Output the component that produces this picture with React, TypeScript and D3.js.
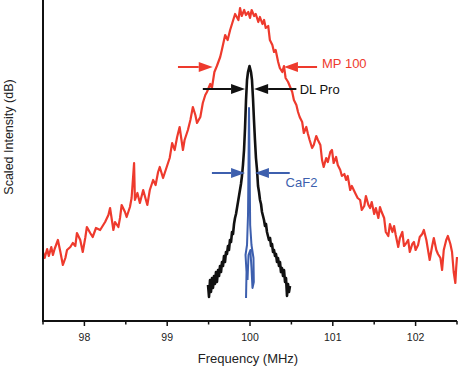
import React, { useEffect, useRef } from "react";
import * as d3 from "d3";

// MP 100 (red) — frequency in MHz, scaled intensity in dB
const mpFreq = [
  97.5, 97.52, 97.55, 97.57, 97.6, 97.62, 97.64, 97.68, 97.71, 97.74, 97.77, 97.79, 97.83, 97.86, 97.89, 97.91,
  97.95, 97.98, 98.01, 98.03, 98.07, 98.1, 98.14, 98.19, 98.22, 98.25, 98.29, 98.31, 98.35, 98.37, 98.41, 98.43,
  98.45, 98.49, 98.51, 98.55, 98.57, 98.6, 98.61, 98.64, 98.67, 98.71, 98.73, 98.76, 98.79, 98.83, 98.86, 98.89,
  98.91, 98.95, 98.97, 99.01, 99.03, 99.06, 99.09, 99.12, 99.15, 99.19, 99.21, 99.25, 99.28, 99.31, 99.34, 99.36,
  99.4, 99.43, 99.46, 99.48, 99.52, 99.54, 99.57, 99.6, 99.64, 99.66, 99.7, 99.73, 99.76, 99.79, 99.82, 99.86,
  99.88, 99.9, 99.93, 99.95, 99.98, 100.0, 100.02, 100.05, 100.07, 100.1, 100.12, 100.15, 100.17, 100.19, 100.22,
  100.24, 100.27, 100.29, 100.31, 100.34, 100.36, 100.39, 100.41, 100.43, 100.46, 100.48, 100.51, 100.53, 100.56,
  100.58, 100.6, 100.63, 100.65, 100.68, 100.7, 100.72, 100.75, 100.77, 100.8, 100.82, 100.85, 100.87, 100.89,
  100.92, 100.94, 100.97, 100.99, 101.01, 101.04, 101.06, 101.09, 101.11, 101.14, 101.16, 101.18, 101.21, 101.23,
  101.27, 101.3, 101.33, 101.35, 101.38, 101.4, 101.43, 101.45, 101.47, 101.5, 101.52, 101.55, 101.57, 101.59,
  101.62, 101.64, 101.67, 101.69, 101.72, 101.74, 101.76, 101.79, 101.81, 101.84, 101.86, 101.88, 101.91, 101.93,
  101.96, 101.98, 102.0, 102.03, 102.05, 102.08, 102.1, 102.13, 102.15, 102.17, 102.2, 102.22, 102.25, 102.27,
  102.3, 102.32, 102.34, 102.37, 102.39, 102.42, 102.44, 102.46, 102.48, 102.49, 102.5,
];
const mpLevel = [
  -25.1, -25.7, -24.8, -25.5, -24.6, -25.4, -24.8, -23.9, -25.1, -26.4, -25.7, -24.9, -24.6, -24.2, -24.5, -23.2,
  -23.9, -25.1, -23.7, -22.6, -23.2, -23.6, -22.7, -22.9, -22.5, -22.1, -21.4, -20.7, -22.9, -22.1, -22.6, -21.7,
  -20.4, -21.1, -21.6, -20.6, -19.7, -16.2, -19.9, -19.2, -20.2, -18.9, -19.5, -20.4, -18.9, -17.9, -18.4, -17.1,
  -16.6, -17.7, -17.2, -16.2, -15.7, -14.2, -14.9, -13.6, -12.6, -14.9, -13.9, -12.9, -11.9, -10.6, -11.4, -12.2,
  -11.6, -10.2, -9.4, -9.1, -8.3, -8.7, -7.1, -6.5, -5.6, -4.9, -3.4, -3.9, -2.9, -2.1, -1.3, -1.9,
  -0.7, -1.5, -0.9, -1.4, -1.1, -1.7, -0.9, -1.5, -1.3, -2.1, -1.6, -2.3, -1.9, -2.7, -2.5,
  -3.9, -4.4, -5.1, -4.9, -6.1, -6.7, -7.1, -6.5, -7.7, -8.1, -8.5, -9.1, -9.9, -10.4,
  -11.1, -11.6, -12.1, -13.2, -12.6, -13.3, -13.9, -14.7, -14.4, -13.5, -13.9, -14.4, -15.9, -16.6,
  -15.7, -16.1, -15.1, -14.9, -16.2, -15.6, -16.4, -16.9, -17.5, -17.3, -17.9, -17.5, -18.9, -18.5,
  -19.2, -19.7, -19.9, -20.9, -20.5, -19.5, -20.4, -20.7, -20.1, -21.3, -20.7, -21.7, -20.6, -21.1,
  -21.7, -23.1, -23.5, -22.3, -23.1, -22.5, -23.4, -24.6, -23.7, -23.1, -24.5, -24.3, -23.9, -25.1,
  -24.3, -24.1, -24.9, -24.4, -23.6, -23.3, -22.9, -23.9, -24.9, -25.9, -24.5, -23.7, -24.9, -25.3,
  -25.7, -26.9, -24.9, -23.9, -23.5, -24.3, -25.1, -27.1, -28.2, -26.7, -25.6,
];

// DL Pro (black)
const dlFreq = [
  99.493, 99.505, 99.517, 99.529, 99.541, 99.553, 99.565, 99.577, 99.589, 99.601, 99.614, 99.626, 99.638, 99.65,
  99.662, 99.674, 99.686, 99.698, 99.71, 99.722, 99.734, 99.746, 99.758, 99.771, 99.783, 99.795, 99.807, 99.819,
  99.831, 99.843, 99.855, 99.867, 99.879, 99.891, 99.903, 99.915, 99.928, 99.94, 99.952, 99.964, 99.976, 99.994,
  100.012, 100.024, 100.036, 100.048, 100.06, 100.072, 100.085, 100.097, 100.109, 100.121, 100.133, 100.145,
  100.157, 100.169, 100.181, 100.193, 100.205, 100.217, 100.229, 100.242, 100.254, 100.266, 100.278, 100.29,
  100.302, 100.314, 100.326, 100.338, 100.35, 100.362, 100.374, 100.386, 100.399, 100.411, 100.423, 100.435,
  100.447, 100.459, 100.471, 100.483,
];
const dlLevel = [
  -28.4, -29.6, -27.9, -29.1, -27.7, -28.7, -27.5, -28.3, -27.1, -28.1, -26.9, -27.5, -26.5, -27.1,
  -26.1, -26.5, -25.5, -26.1, -25.1, -25.3, -24.5, -24.9, -23.9, -24.1, -23.1, -23.3, -22.3, -21.7,
  -21.3, -20.7, -20.1, -19.5, -18.9, -18.3, -17.5, -16.4, -14.9, -12.7, -9.9, -7.9, -7.1, -6.5,
  -7.1, -7.9, -9.7, -11.9, -13.9, -15.7, -16.9, -18.5, -19.1, -19.9, -20.3, -21.1,
  -21.5, -21.9, -22.5, -22.3, -23.1, -23.5, -23.9, -23.7, -24.5, -24.3, -25.1, -24.9,
  -25.5, -25.3, -26.1, -25.7, -26.5, -26.1, -27.1, -26.7, -27.5, -26.9, -28.1, -27.7,
  -29.5, -28.3, -29.1, -28.5,
];

// CaF2 (blue)
const caFreq = [
  99.952, 99.958, 99.946, 99.964, 99.976, 99.982, 99.988, 99.995, 100.002, 100.018, 100.042, 100.046, 100.03,
  100.018, 100.004, 99.982, 99.97,
];
const caLevel = [
  -29.7, -27.1, -25.4, -24.4, -21.4, -16.4, -10.7, -16.4, -22.4, -24.4, -25.7, -28.1, -28.7, -26.7, -24.9, -25.4,
  -27.9,
];

const majorTicks = [98, 99, 100, 101, 102];
const minorTicks = [97.5, 98.5, 99.5, 100.5, 101.5, 102.5];

// width markers: [from, to] pairs pointing inward, level in dB
const markers = [
  { name: "MP 100", color: "#ee3a2d", level: -6.6, left: [99.13, 99.55], right: [100.81, 100.41], labelX: 100.87, labelLevel: -6.2 },
  { name: "DL Pro", color: "#111111", level: -8.8, left: [99.43, 99.94], right: [100.56, 100.05], labelX: 100.6, labelLevel: -8.8 },
  { name: "CaF2", color: "#3d5fae", level: -17.2, left: [99.54, 99.94], right: [100.48, 100.06], labelX: 100.43, labelLevel: -18.1 },
];

const RED = "#ee3a2d";
const BLUE = "#3d5fae";
const FONT = "'Liberation Sans', Arial, sans-serif";

const App = () => {
  const ref = useRef<SVGSVGElement>(null);
  const width = 458;
  const height = 382;

  useEffect(() => {
    const svg = d3.select(ref.current);
    svg.selectAll("*").remove();

    const x = d3.scaleLinear().domain([97.5, 102.5]).range([43, 457]);
    const y = d3.scaleLinear().domain([-32, 0]).range([321, 1]);

    const line = d3
      .line<[number, number]>()
      .x((d) => x(d[0]))
      .y((d) => y(d[1]));

    const series = [
      { f: mpFreq, v: mpLevel, color: RED, w: 2.2 },
      { f: dlFreq, v: dlLevel, color: "#111", w: 2.6 },
      { f: caFreq, v: caLevel, color: BLUE, w: 2 },
    ];
    series.forEach((s) => {
      const pts = s.f.map((f, i) => [f, s.v[i]] as [number, number]);
      svg
        .append("path")
        .attr("d", line(pts))
        .attr("fill", "none")
        .attr("stroke", s.color)
        .attr("stroke-width", s.w)
        .attr("stroke-linejoin", "round");
    });

    // arrows
    markers.forEach((m) => {
      const yy = y(m.level);
      [m.left, m.right].forEach((seg) => {
        const x0 = x(seg[0]);
        const x1 = x(seg[1]);
        const dir = Math.sign(x1 - x0);
        const headLen = 14;
        svg
          .append("line")
          .attr("x1", x0)
          .attr("x2", x1 - dir * headLen)
          .attr("y1", yy)
          .attr("y2", yy)
          .attr("stroke", m.color)
          .attr("stroke-width", 2);
        svg
          .append("path")
          .attr("d", `M${x1},${yy}L${x1 - dir * headLen},${yy - 5}L${x1 - dir * headLen},${yy + 5}Z`)
          .attr("fill", m.color);
      });
      svg
        .append("text")
        .attr("x", x(m.labelX))
        .attr("y", y(m.labelLevel))
        .attr("dy", "0.35em")
        .attr("fill", m.color)
        .style("font-family", FONT)
        .style("font-size", "13px")
        .text(m.name);
    });

    // axes
    const xAxis = svg.append("g").attr("transform", "translate(0,321)");
    xAxis
      .selectAll("line.minor")
      .data(minorTicks)
      .join("line")
      .attr("x1", (d) => x(d))
      .attr("x2", (d) => x(d))
      .attr("y1", 0)
      .attr("y2", 3.5)
      .attr("stroke", "#111")
      .attr("stroke-width", 1.5);
    xAxis
      .selectAll("line.major")
      .data(majorTicks)
      .join("line")
      .attr("x1", (d) => x(d))
      .attr("x2", (d) => x(d))
      .attr("y1", 0)
      .attr("y2", 5)
      .attr("stroke", "#111")
      .attr("stroke-width", 1.5);
    xAxis
      .selectAll("text")
      .data(majorTicks)
      .join("text")
      .attr("x", (d) => x(d))
      .attr("y", 20)
      .attr("text-anchor", "middle")
      .attr("fill", "#222")
      .style("font-family", FONT)
      .style("font-size", "10.5px")
      .text((d) => d);

    svg
      .append("path")
      .attr("d", `M${x(97.5)},0V321H${x(102.5)}`)
      .attr("fill", "none")
      .attr("stroke", "#111")
      .attr("stroke-width", 2);

    svg
      .append("text")
      .attr("x", 248)
      .attr("y", 363)
      .attr("text-anchor", "middle")
      .attr("fill", "#222")
      .style("font-family", FONT)
      .style("font-size", "13px")
      .text("Frequency (MHz)");

    svg
      .append("text")
      .attr("transform", "translate(13,137) rotate(-90)")
      .attr("text-anchor", "middle")
      .attr("fill", "#222")
      .style("font-family", FONT)
      .style("font-size", "12.5px")
      .text("Scaled Intensity (dB)");
  }, []);

  return (
    <svg
      ref={ref}
      width={width}
      height={height}
      style={{ position: "absolute", left: 0, top: 0, background: "#fff" }}
    />
  );
};

export default App;
